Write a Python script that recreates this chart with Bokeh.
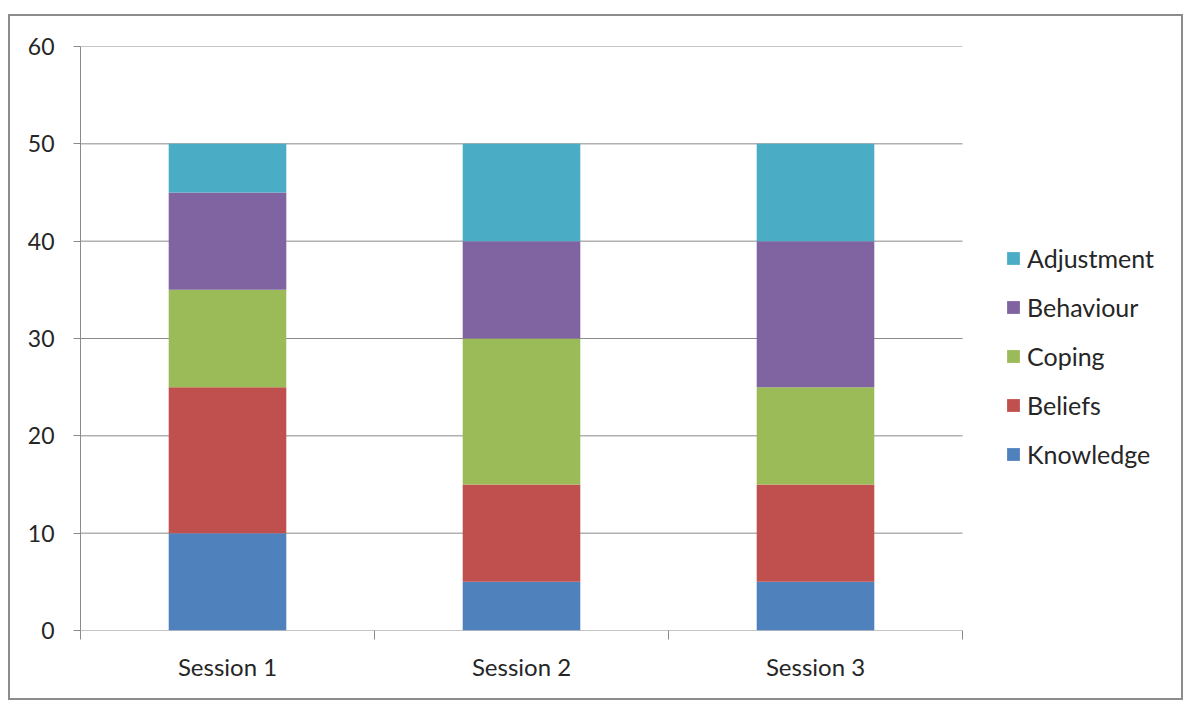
from bokeh.plotting import figure
from bokeh.models import (Range1d, LinearAxis, FixedTicker, Legend, LegendItem, Spacer)
from bokeh.layouts import column, row
from bokeh.embed import file_html
from bokeh.resources import INLINE

sessions = ["Session 1", "Session 2", "Session 3"]
components = ["Knowledge", "Beliefs", "Coping", "Behaviour", "Adjustment"]
knowledge = [10, 5, 5]
beliefs = [15, 10, 10]
coping = [10, 15, 10]
behaviour = [10, 10, 15]
adjustment = [5, 10, 10]
colors = ["#4F81BD", "#C0504D", "#9BBB59", "#8064A2", "#4BACC6"]
y_ticks = [0, 10, 20, 30, 40, 50, 60]

n = len(sessions)
centers = [i + 0.5 for i in range(n)]
data = {"x": centers, "Knowledge": knowledge, "Beliefs": beliefs,
        "Coping": coping, "Behaviour": behaviour, "Adjustment": adjustment}

FONT = "Lato"
FS = "23px"
TXT = "#262626"
GRID = "#8a8a8a"

W, H = 1175, 686
LEFT, TOP = 70, 30
BOTTOM = H - TOP - 584
CAT_W = 882                      # pixel width of the category area
frame_w = W - LEFT
x_end = n * frame_w / CAT_W      # leaves room on the right for the legend

p = figure(x_range=Range1d(0, x_end), y_range=Range1d(0, 60),
           width=W, height=H, output_backend="svg", toolbar_location=None,
           x_axis_location=None, y_axis_location=None,
           min_border_left=LEFT, min_border_right=0, min_border_top=TOP,
           min_border_bottom=BOTTOM,
           styles={"border": "2px solid #8c8c8c"})
p.outline_line_color = None
p.background_fill_color = "white"
p.border_fill_color = "white"
p.xgrid.grid_line_color = None
p.ygrid.grid_line_color = None

# horizontal gridlines limited to the category area
p.segment(x0=[0] * len(y_ticks), x1=[n] * len(y_ticks), y0=y_ticks, y1=y_ticks,
          line_color=GRID, line_width=1)

renderers = p.vbar_stack(components, x="x", width=0.4, color=colors,
                         line_color=None, source=data)

# y axis
yax = LinearAxis(ticker=FixedTicker(ticks=y_ticks))
yax.axis_line_color = GRID
yax.major_tick_line_color = GRID
yax.major_tick_out = 7
yax.major_tick_in = 0
yax.minor_tick_line_color = None
yax.major_label_text_font = FONT
yax.major_label_text_font_size = FS
yax.major_label_text_color = TXT
yax.major_label_standoff = 19
p.add_layout(yax, "left")

# boundary tick axis (ticks between categories)
tax = LinearAxis(ticker=FixedTicker(ticks=list(range(n + 1))))
tax.axis_line_color = None
tax.major_tick_line_color = GRID
tax.major_tick_out = 9
tax.major_tick_in = 0
tax.minor_tick_line_color = None
tax.major_label_text_font_size = "0px"
tax.major_label_text_color = None
tax.major_label_standoff = 0
p.add_layout(tax, "below")

# category label axis
cax = LinearAxis(ticker=FixedTicker(ticks=centers),
                 major_label_overrides={c: s for c, s in zip(centers, sessions)})
cax.axis_line_color = None
cax.major_tick_line_color = None
cax.minor_tick_line_color = None
cax.major_tick_out = 0
cax.major_tick_in = 0
cax.major_label_text_font = FONT
cax.major_label_text_font_size = "24px"
cax.major_label_text_color = TXT
cax.major_label_standoff = 12
p.add_layout(cax, "below")

items = [LegendItem(label=name, renderers=[r]) for name, r in zip(components, renderers)]
items = items[::-1]
legend = Legend(items=items, location=(925, 161), orientation="vertical")
legend.glyph_width = 16
legend.glyph_height = 16
legend.label_height = 20
legend.spacing = 19
legend.padding = 0
legend.margin = 0
legend.label_standoff = 6
legend.label_text_font = FONT
legend.label_text_font_size = "25px"
legend.label_text_color = TXT
legend.border_line_color = None
legend.background_fill_color = None
p.add_layout(legend, "center")

layout = row(Spacer(width=8), column(Spacer(height=14), p))
open("out.html", "w").write(file_html(layout, INLINE))
